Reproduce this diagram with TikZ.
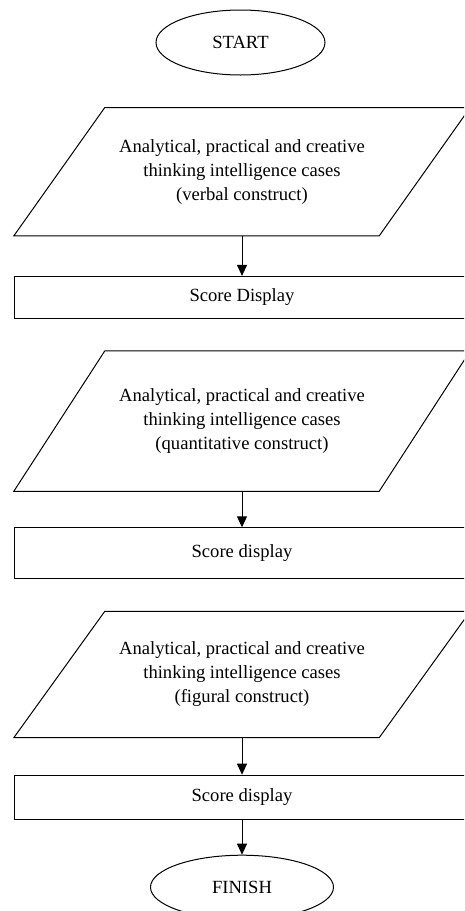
\documentclass[tikz,border=0pt]{standalone}
\usepackage{fontspec}
\setmainfont{Liberation Serif}
\usetikzlibrary{arrows.meta, positioning}
\usetikzlibrary{shapes.geometric}

\begin{document}
\begin{tikzpicture}[
    x=1pt,
    y=-1pt,
    >={Triangle[width=10pt,length=11pt]},
    every node/.style={font=\fontsize{18.6}{24}\selectfont},
    term/.style={
        ellipse,
        draw=black,
        line width=1pt,
        inner sep=0pt,
        minimum width=169pt,
        minimum height=65pt
    },
    casebox/.style={
        rectangle,
        inner sep=0pt,
        minimum width=365pt,
        align=center
    },
    scorebox/.style={
        rectangle,
        draw=black,
        line width=1pt,
        inner sep=0pt,
        minimum width=455pt
    },
    slant/.style={line width=1pt, line join=miter},
    link/.style={->, line width=1pt}
]

\useasboundingbox (0,0) rectangle (464,911);
\clip (0,0) rectangle (464,911);

% Main vertical flow
\node[term] (start) at (240.5,42.5) {START};

\node[casebox, minimum height=128pt, below=32pt of start, xshift=1.5pt] (verbal)
    {Analytical, practical and creative\\thinking intelligence cases\\(verbal construct)};

\node[scorebox, minimum height=42pt, below=40pt of verbal] (score1) {Score Display};

\node[casebox, minimum height=140pt, below=32pt of score1] (quant)
    {Analytical, practical and creative\\thinking intelligence cases\\(quantitative construct)};

\node[scorebox, minimum height=51pt, below=36pt of quant] (score2) {Score display};

\node[casebox, minimum height=126pt, below=32pt of score2] (figural)
    {Analytical, practical and creative\\thinking intelligence cases\\(figural construct)};

\node[scorebox, minimum height=44pt, below=37pt of figural] (score3) {Score display};

\node[term, minimum width=183pt, minimum height=64pt, below=35pt of score3] (finish) {FINISH};

% Input parallelograms round the case nodes
\foreach \n in {verbal, quant, figural}
    \draw[slant] ([xshift=45.5pt]\n.north west) -- ([xshift=45.5pt]\n.north east)
        -- ([xshift=-45.5pt]\n.south east) -- ([xshift=-45.5pt]\n.south west) -- cycle;

% Arrows
\draw[link] (verbal) -- (score1);
\draw[link] (quant) -- (score2);
\draw[link] (figural) -- (score3);
\draw[link] (score3) -- (finish);

\end{tikzpicture}
\end{document}
